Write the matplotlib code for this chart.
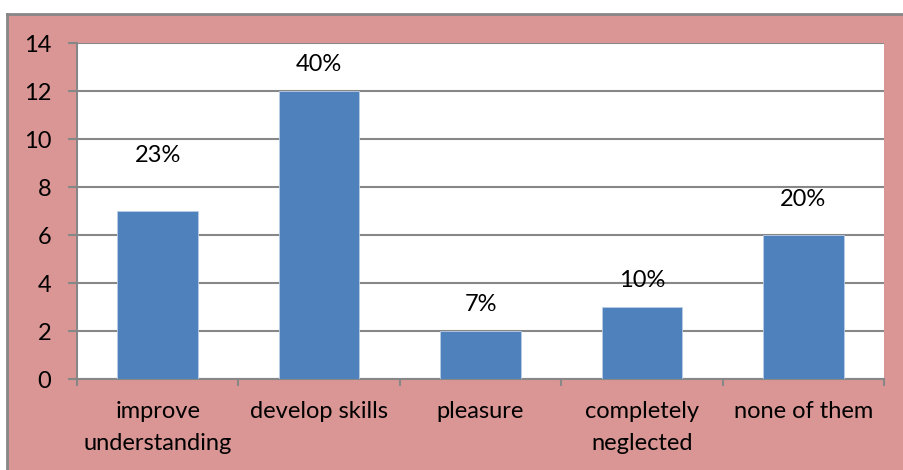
import numpy as np
import matplotlib.pyplot as plt
from matplotlib.patches import Rectangle
from matplotlib.lines import Line2D

plt.rcParams['font.family'] = ['Lato', 'DejaVu Sans']

categories = ["improve\nunderstanding", "develop skills", "pleasure",
              "completely\nneglected", "none of them"]
counts = [7, 12, 2, 3, 6]
percent_labels = ["23%", "40%", "7%", "10%", "20%"]
# height (in data units) where each percentage sits
label_y = [9.3, 13.1, 3.1, 4.1, 7.5]

fig = plt.figure(figsize=(9.04, 4.70), dpi=100)
fig.patch.set_facecolor("white")

pink = "#D99694"
grey = "#878787"
fs = 17

# pink chart area with a grey frame on top and left
fig.patches.append(Rectangle((7 / 904, 0), 1, 1 - 14 / 470, transform=fig.transFigure,
                             facecolor=pink, edgecolor="none", zorder=-2))
fig.lines.append(Line2D([7 / 904, 1], [1 - 14 / 470, 1 - 14 / 470],
                        transform=fig.transFigure, color=grey, lw=2, zorder=-1))
fig.lines.append(Line2D([7 / 904, 7 / 904], [0, 1 - 14 / 470],
                        transform=fig.transFigure, color=grey, lw=2, zorder=-1))

ax = fig.add_axes([77 / 904, 1 - 379 / 470, (884 - 77) / 904, (379 - 43) / 470])
ax.set_facecolor("white")
ax.set_zorder(1)

x = np.arange(len(categories))
ax.bar(x, counts, width=0.5, color="#4F81BD", edgecolor="#B9CDE5", linewidth=0.6, zorder=3)

for xi, yi, lab in zip(x, label_y, percent_labels):
    ax.text(xi, yi, lab, ha="center", va="center", fontsize=fs, color="black")

ax.set_xlim(-0.5, len(categories) - 0.5)
ax.set_ylim(0, 14)
ax.set_yticks(range(0, 15, 2))
ax.yaxis.grid(True, color=grey, lw=1.5, zorder=0)
ax.set_axisbelow(True)

# x ticks at category boundaries, labels centered under bars
ax.set_xticks(np.arange(-0.5, len(categories)), minor=False)
ax.set_xticklabels([])
ax.set_xticks(x, minor=True)
ax.set_xticklabels(categories, minor=True, fontsize=fs, linespacing=1.65)
ax.tick_params(axis="x", which="minor", length=0, pad=16)
ax.tick_params(axis="x", which="major", length=5, color=grey, width=1.5, direction="out")
ax.tick_params(axis="y", length=6.5, color=grey, width=1.5, labelsize=fs, pad=12)

for side in ["top", "right"]:
    ax.spines[side].set_visible(False)
for side in ["left", "bottom"]:
    ax.spines[side].set_color(grey)
    ax.spines[side].set_linewidth(1.5)

fig.savefig("out.png", dpi=100, facecolor=fig.get_facecolor())
